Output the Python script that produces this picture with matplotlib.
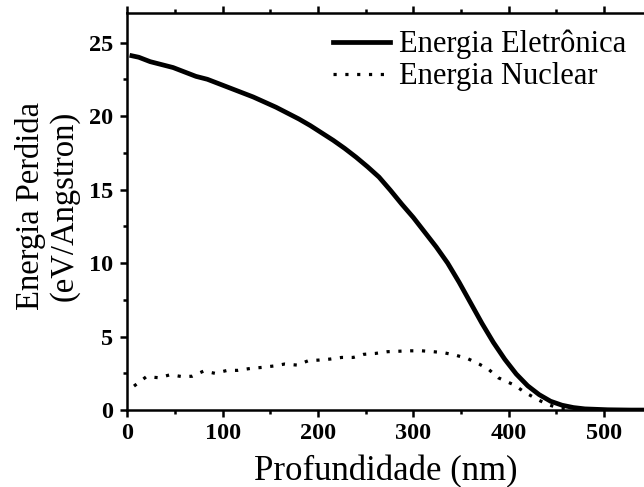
import matplotlib
matplotlib.use("Agg")
import matplotlib.pyplot as plt
from matplotlib.ticker import MultipleLocator

# --------------------------------------------------
# DATA
# --------------------------------------------------
depth_elec = [4.8, 12, 24, 36, 48, 60, 72, 84, 96, 108, 120, 132, 144, 156,
              168, 180, 192, 204, 216, 228, 240, 252, 264, 276, 288, 300,
              312, 324, 336, 348, 360, 372, 384, 396, 408, 420, 432, 444,
              456, 468, 480, 504, 528, 553]
energy_elec = [24.1, 24.0, 23.7, 23.5, 23.3, 23.0, 22.7, 22.5, 22.2, 21.9,
               21.6, 21.3, 20.95, 20.6, 20.2, 19.8, 19.35, 18.85, 18.35, 17.8,
               17.2, 16.55, 15.85, 14.95, 14.0, 13.1, 12.1, 11.1, 10.0, 8.7,
               7.3, 5.9, 4.6, 3.45, 2.45, 1.65, 1.05, 0.6, 0.33, 0.17, 0.08,
               0.02, 0.0, 0.0]

depth_nuc = [7, 20, 33, 45, 58, 68, 80, 92, 105, 116, 129, 141, 154, 165,
             178, 190, 201, 213, 225, 237, 248, 260, 273, 284, 297, 309, 321,
             332, 344, 357, 369, 379, 389, 406, 416, 428, 440, 452, 466, 480]
energy_nuc = [1.63, 2.27, 2.2, 2.4, 2.27, 2.3, 2.65, 2.5, 2.7, 2.7, 2.83,
              2.9, 3.0, 3.13, 3.06, 3.36, 3.4, 3.47, 3.58, 3.58, 3.79, 3.85,
              3.97, 4.0, 4.03, 4.03, 3.97, 3.9, 3.74, 3.5, 3.13, 2.77, 2.2,
              1.7, 1.25, 0.8, 0.4, 0.15, 0.05, 0.0]

label_elec = "Energia Eletrônica"
label_nuc = "Energia Nuclear"

# --------------------------------------------------
# PLOT
# --------------------------------------------------
plt.rcParams["font.family"] = ["Liberation Serif", "DejaVu Serif"]

fig = plt.figure(figsize=(6.44, 4.87), dpi=100)
ax = fig.add_axes([0.1977, 0.158, 1.0 - 0.1977, 0.973 - 0.158])

ax.plot(depth_elec, energy_elec, color="black", linewidth=3.4,
        label=label_elec)
ax.plot(depth_nuc, energy_nuc, color="black", linewidth=2.3,
        linestyle=(0, (1, 2.7)), dash_capstyle="butt", label=label_nuc)

# right part of the axis is cut off by the figure edge
ax.set_xlim(0, 542)
ax.set_ylim(0, 27)

ax.xaxis.set_major_locator(MultipleLocator(100))
ax.xaxis.set_minor_locator(MultipleLocator(50))
ax.yaxis.set_major_locator(MultipleLocator(5))
ax.yaxis.set_minor_locator(MultipleLocator(2.5))

for side in ["left", "bottom", "top"]:
    ax.spines[side].set_linewidth(1.8)
ax.spines["right"].set_visible(False)

# left axis: outward major + minor ticks
ax.tick_params(axis="y", which="major", direction="out", length=5, width=1.8,
               labelsize=17.5, pad=5)
ax.tick_params(axis="y", which="minor", direction="out", length=3, width=1.8)
# bottom axis (plus tiny marks along the top spine)
ax.tick_params(axis="x", which="major", direction="out", length=5, width=1.8,
               labelsize=17.5, pad=4, top=True)
ax.tick_params(axis="x", which="minor", direction="out", length=3, width=1.8,
               top=True)
for lbl in ax.get_xticklabels() + ax.get_yticklabels():
    lbl.set_fontweight("bold")

ax.set_xlabel("Profundidade (nm)", fontsize=25, labelpad=8)
ax.set_ylabel("Energia Perdida\n(eV/Angstron)", fontsize=23.5,
              linespacing=1.15)
ax.yaxis.set_label_coords(-0.0915, 0.514)

leg = ax.legend(loc="upper left", bbox_to_anchor=(0.517, 0.939),
                bbox_transform=fig.transFigure, frameon=False,
                fontsize=22, handlelength=1.87, handletextpad=0.3,
                labelspacing=0.1, borderaxespad=0, borderpad=0)

fig.savefig("out.png", dpi=100)
plt.close(fig)
